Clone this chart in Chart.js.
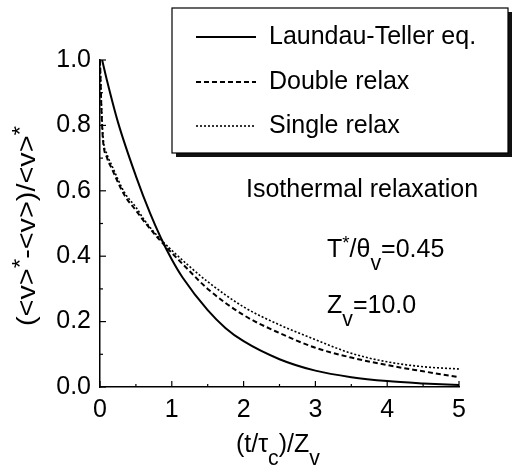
<!DOCTYPE html>
<html>
<head>
<meta charset="utf-8">
<script src="https://cdn.jsdelivr.net/npm/chart.js@4.4.1/dist/chart.umd.min.js"></script>
<style>
  html, body { margin: 0; padding: 0; background: #fff; }
  #wrap { width: 513px; height: 476px; }
</style>
</head>
<body>
<div id="wrap"><canvas id="c" width="513" height="476"></canvas></div>
<script>
// values
const seriesNames = ['Laundau-Teller eq.', 'Double relax', 'Single relax'];

const ltX = [0.03, 0.1, 0.25, 0.5, 0.7, 0.85, 1.0, 1.15, 1.5, 1.75, 2.0, 2.5, 3.0, 3.5, 4.0, 4.5, 5.0];
const ltY = [1.0, 0.935, 0.81, 0.645, 0.53, 0.455, 0.39, 0.335, 0.235, 0.18, 0.14, 0.085, 0.05, 0.03, 0.018, 0.011, 0.006];

const dblX = [0, 0.02, 0.04, 0.1, 0.16, 0.34, 0.5, 0.62, 0.83, 1.0, 1.25, 1.5, 2.0, 2.5, 3.0, 3.5, 4.0, 4.5, 5.0];
const dblY = [1.0, 0.85, 0.76, 0.70, 0.67, 0.587, 0.54, 0.505, 0.45, 0.41, 0.354, 0.30, 0.22, 0.165, 0.12, 0.09, 0.067, 0.048, 0.03];

const sglX = [0, 0.02, 0.04, 0.1, 0.16, 0.34, 0.5, 0.62, 0.83, 1.0, 1.25, 1.5, 2.0, 2.5, 3.0, 3.5, 4.0, 4.5, 5.0];
const sglY = [1.0, 0.86, 0.77, 0.71, 0.68, 0.595, 0.55, 0.51, 0.455, 0.418, 0.368, 0.322, 0.245, 0.19, 0.145, 0.103, 0.077, 0.062, 0.055];

const xTicks = [0, 1, 2, 3, 4, 5];
const yTicks = [0.0, 0.2, 0.4, 0.6, 0.8, 1.0];

const FONT = '"Liberation Sans", Arial, sans-serif';
const FS = 25;

const pts = (xs, ys) => xs.map((x, i) => ({ x: x, y: ys[i] }));

// inward tick marks on left and bottom axes
const innerTicks = {
  id: 'innerTicks',
  afterDraw(chart) {
    const ctx = chart.ctx;
    const xs = chart.scales.x, ys = chart.scales.y;
    const a = chart.chartArea;
    ctx.save();
    ctx.strokeStyle = '#000';
    ctx.lineWidth = 1.2;
    for (let v = 0; v <= 5.001; v += 0.5) {
      const px = xs.getPixelForValue(v);
      const len = Math.abs(v - Math.round(v)) < 0.01 ? 6 : 3;
      ctx.beginPath(); ctx.moveTo(px, a.bottom); ctx.lineTo(px, a.bottom - len); ctx.stroke();
    }
    for (let v = 0; v <= 1.001; v += 0.1) {
      const py = ys.getPixelForValue(v);
      const major = Math.round(v * 10) % 2 === 0;
      const len = major ? 6 : 3;
      ctx.beginPath(); ctx.moveTo(a.left, py); ctx.lineTo(a.left + len, py); ctx.stroke();
    }
    ctx.restore();
  }
};

// text pieces: [text, dy, sizeScale]
function drawRich(ctx, x, y, parts, size) {
  let cx = x;
  parts.forEach(p => {
    const s = size * (p[2] || 1);
    ctx.font = s + 'px ' + FONT;
    ctx.fillText(p[0], cx, y + (p[1] || 0));
    cx += ctx.measureText(p[0]).width;
  });
}

const decorations = {
  id: 'decorations',
  afterDraw(chart) {
    const ctx = chart.ctx;
    const ds = chart.data.datasets;
    ctx.save();
    ctx.fillStyle = '#000';
    ctx.textBaseline = 'middle';
    ctx.textAlign = 'left';

    // legend box with shadow
    const bx = 172, by = 8, bw = 336, bh = 145;
    ctx.fillStyle = '#111';
    ctx.fillRect(bx + 4, by + 4, bw, bh);
    ctx.fillStyle = '#fff';
    ctx.fillRect(bx, by, bw, bh);
    ctx.strokeStyle = '#000';
    ctx.lineWidth = 1.2;
    ctx.strokeRect(bx, by, bw, bh);
    const rows = [37, 82, 126];
    ds.forEach((d, i) => {
      ctx.strokeStyle = '#000';
      ctx.lineWidth = d.borderWidth;
      ctx.setLineDash(d.borderDash || []);
      ctx.beginPath(); ctx.moveTo(196, rows[i]); ctx.lineTo(256, rows[i]); ctx.stroke();
      ctx.setLineDash([]);
      ctx.fillStyle = '#000';
      ctx.font = FS + 'px ' + FONT;
      ctx.fillText(d.label, 269, rows[i]);
    });

    // annotations
    ctx.font = FS + 'px ' + FONT;
    ctx.fillText('Isothermal relaxation', 246, 190);
    drawRich(ctx, 327, 250, [['T'], ['*', -6, 0.75], ['/θ'], ['v', 14, 0.85], ['=0.45']], FS);
    drawRich(ctx, 327, 306, [['Z'], ['v', 14, 0.85], ['=10.0']], FS);

    // x title
    drawRich(ctx, 236, 445, [['(t/τ'], ['c', 14, 0.85], [')/Z'], ['v', 14, 0.85]], FS);

    // y title, rotated
    ctx.save();
    ctx.translate(28, 226);
    ctx.rotate(-Math.PI / 2);
    const parts = [['(<v>'], ['*', -7, 0.85], ['-<v>)/<v>'], ['*', -7, 0.85]];
    let w = 0;
    parts.forEach(p => { ctx.font = FS * (p[2] || 1) + 'px ' + FONT; w += ctx.measureText(p[0]).width; });
    ctx.scale(200 / w, 1);
    drawRich(ctx, -w / 2, 0, parts, FS);
    ctx.restore();

    ctx.restore();
  }
};

new Chart(document.getElementById('c'), {
  type: 'line',
  data: {
    datasets: [
      { label: seriesNames[0], data: pts(ltX, ltY), borderColor: '#000', borderWidth: 2, borderDash: [] },
      { label: seriesNames[1], data: pts(dblX, dblY), borderColor: '#000', borderWidth: 2, borderDash: [5, 3] },
      { label: seriesNames[2], data: pts(sglX, sglY), borderColor: '#000', borderWidth: 1.6, borderDash: [2, 2] }
    ]
  },
  options: {
    responsive: false,
    animation: false,
    layout: { padding: { left: 0, top: 60, right: 54, bottom: 0 } },
    elements: { point: { radius: 0 }, line: { cubicInterpolationMode: 'monotone', fill: false } },
    plugins: { legend: { display: false }, tooltip: { enabled: false } },
    scales: {
      x: {
        type: 'linear', min: 0, max: 5,
        afterFit(s) { s.height = 89; },
        afterBuildTicks(s) { s.ticks = xTicks.map(v => ({ value: v })); },
        grid: { display: false, drawTicks: false },
        border: { display: true, color: '#000', width: 1.5 },
        ticks: { color: '#000', font: { family: FONT, size: FS }, padding: 8, callback: v => String(v) }
      },
      y: {
        min: 0, max: 1,
        afterFit(s) { s.width = 100; },
        afterBuildTicks(s) { s.ticks = yTicks.map(v => ({ value: v })); },
        grid: { display: false, drawTicks: false },
        border: { display: true, color: '#000', width: 1.5 },
        ticks: { color: '#000', font: { family: FONT, size: FS }, padding: 9, callback: v => v.toFixed(1) }
      }
    }
  },
  plugins: [innerTicks, decorations]
});
</script>
</body>
</html>
